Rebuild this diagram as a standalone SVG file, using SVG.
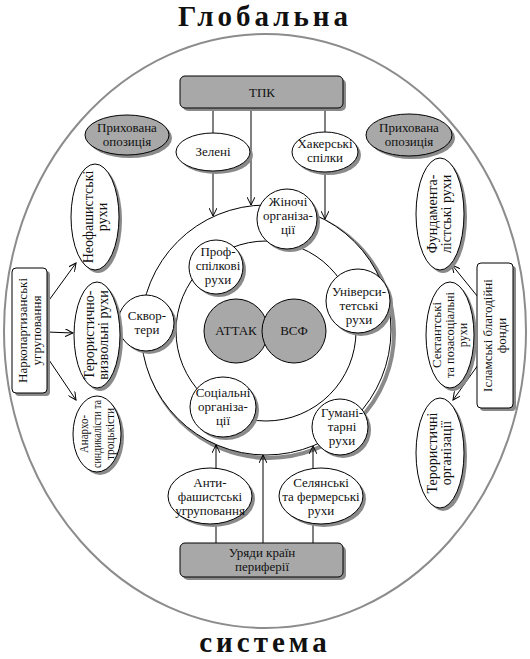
<svg xmlns="http://www.w3.org/2000/svg" width="530" height="659" viewBox="0 0 530 659">
<style>
text{font-family:"Liberation Serif","DejaVu Serif",serif;fill:#111;text-anchor:middle}
.t{font-size:13px}
.ts{font-size:12px}
.tb{font-size:14px}
.title{font-size:29px;font-weight:bold}
.w{fill:#fff;stroke:#000;stroke-width:1}
.g{fill:#a8a8a8;stroke:#000;stroke-width:1}
.sh{fill:#8a8a8a;stroke:none}
.ln{stroke:#000;stroke-width:1;fill:none}
</style>
<defs>
<marker id="ar" markerWidth="9" markerHeight="8" refX="8" refY="4" orient="auto" markerUnits="userSpaceOnUse">
<path d="M0,0 L8,4 L0,8" fill="none" stroke="#000" stroke-width="1"/>
</marker>
</defs>
<rect width="530" height="659" fill="#fff"/>
<text class="title" x="265" y="26" letter-spacing="4">Глобальна</text>
<text class="title" x="265" y="652" letter-spacing="4">система</text>
<g id="frame">
<ellipse cx="265" cy="331" rx="261" ry="297" fill="none" stroke="#8c8c8c" stroke-width="2"/>
</g>
<g id="ring-outer">
<circle cx="269" cy="333" r="125" fill="none" stroke="#8a8a8a" stroke-width="4"/>
<circle cx="266" cy="330" r="125" class="w"/>
</g>
<g id="ring-inner">
<circle cx="266" cy="331" r="90" class="w"/>
</g>
<g id="connectors" class="ln">
<line x1="213" y1="108" x2="213" y2="216" marker-end="url(#ar)"/>
<line x1="251" y1="108" x2="251" y2="205" marker-end="url(#ar)"/>
<line x1="325" y1="108" x2="325" y2="219" marker-end="url(#ar)"/>
<line x1="216" y1="543" x2="216" y2="445" marker-end="url(#ar)"/>
<line x1="263" y1="543" x2="263" y2="455" marker-end="url(#ar)"/>
<line x1="313" y1="543" x2="313" y2="446" marker-end="url(#ar)"/>
<line x1="47" y1="303" x2="76" y2="263" marker-end="url(#ar)"/>
<line x1="47" y1="332" x2="73" y2="333" marker-end="url(#ar)"/>
<line x1="47" y1="357" x2="76" y2="400" marker-end="url(#ar)"/>
<line x1="478" y1="297" x2="452" y2="265" marker-end="url(#ar)"/>
<line x1="478" y1="365" x2="453" y2="400" marker-end="url(#ar)"/>
</g>
<g id="attak">
<circle cx="236" cy="331" r="32" class="g"/>
<text class="t" x="236" y="335">АТТАК</text>
</g>
<g id="vsf">
<circle cx="294" cy="331" r="32" class="g"/>
<text class="t" x="294" y="335">ВСФ</text>
</g>
<g id="tpk">
<rect x="183" y="79" width="163" height="32" rx="5" class="sh"/>
<rect x="180" y="76" width="163" height="32" rx="5" class="g"/>
<text class="t" x="262" y="97">ТПК</text>
</g>
<g id="uriady">
<rect x="183" y="546" width="163" height="34" rx="5" class="sh"/>
<rect x="180" y="543" width="163" height="34" rx="5" class="g"/>
<text class="t" x="262" y="557">Уряди країн</text>
<text class="t" x="262" y="571">периферії</text>
</g>
<g id="opoz-left">
<ellipse cx="130" cy="138" rx="42" ry="20" class="sh"/>
<ellipse cx="127" cy="135" rx="42" ry="20" class="g"/>
<text class="t" x="127" y="132">Прихована</text>
<text class="t" x="127" y="146">опозиція</text>
</g>
<g id="opoz-right">
<ellipse cx="412" cy="138" rx="43" ry="21" class="sh"/>
<ellipse cx="409" cy="135" rx="43" ry="21" class="g"/>
<text class="t" x="409" y="132">Прихована</text>
<text class="t" x="409" y="146">опозиція</text>
</g>
<g id="zeleni">
<ellipse cx="216" cy="155" rx="37" ry="19" class="sh"/>
<ellipse cx="213" cy="152" rx="37" ry="19" class="w"/>
<text class="t" x="213" y="156">Зелені</text>
</g>
<g id="hakery">
<ellipse cx="328" cy="155" rx="33" ry="20" class="sh"/>
<ellipse cx="325" cy="152" rx="33" ry="20" class="w"/>
<text class="t" x="325" y="148">Хакерські</text>
<text class="t" x="325" y="162">спілки</text>
</g>
<g id="zhinochi">
<circle cx="290" cy="222" r="30" class="sh"/>
<circle cx="287" cy="219" r="30" class="w"/>
<text class="t" x="288" y="206">Жіночі</text>
<text class="t" x="288" y="220">організа-</text>
<text class="t" x="288" y="234">ції</text>
</g>
<g id="prof">
<circle cx="219" cy="270" r="27" class="sh"/>
<circle cx="216" cy="267" r="27" class="w"/>
<text class="t" x="218" y="256">Проф-</text>
<text class="t" x="218" y="270">спілкові</text>
<text class="t" x="218" y="284">рухи</text>
</g>
<g id="univer">
<circle cx="361" cy="304" r="32" class="sh"/>
<circle cx="358" cy="301" r="32" class="w"/>
<text class="t" x="359" y="296">Універси-</text>
<text class="t" x="359" y="310">тетські</text>
<text class="t" x="359" y="324">рухи</text>
</g>
<g id="skvoter">
<circle cx="149" cy="326" r="28" class="sh"/>
<circle cx="146" cy="323" r="28" class="w"/>
<text class="t" x="147" y="320">Сквор-</text>
<text class="t" x="147" y="334">тери</text>
</g>
<g id="social">
<ellipse cx="226" cy="410" rx="33" ry="30" class="sh"/>
<ellipse cx="223" cy="407" rx="33" ry="30" class="w"/>
<text class="t" x="223" y="397">Соціальні</text>
<text class="t" x="223" y="411">організа-</text>
<text class="t" x="223" y="425">ції</text>
</g>
<g id="humanit">
<circle cx="343" cy="430" r="28" class="sh"/>
<circle cx="340" cy="427" r="28" class="w"/>
<text class="t" x="342" y="417">Гумані-</text>
<text class="t" x="342" y="431">тарні</text>
<text class="t" x="342" y="445">рухи</text>
</g>
<g id="antifa">
<ellipse cx="213" cy="499" rx="42" ry="28" class="sh"/>
<ellipse cx="210" cy="496" rx="42" ry="28" class="w"/>
<text class="t" x="210" y="487">Анти-</text>
<text class="t" x="210" y="501">фашистські</text>
<text class="t" x="210" y="515">угруповання</text>
</g>
<g id="selianski">
<ellipse cx="324" cy="499" rx="42" ry="28" class="sh"/>
<ellipse cx="321" cy="496" rx="42" ry="28" class="w"/>
<text class="t" x="321" y="487">Селянські</text>
<text class="t" x="321" y="501">та фермерські</text>
<text class="t" x="321" y="515">рухи</text>
</g>
<g id="narko">
<rect x="15" y="271" width="35" height="125" rx="4" class="sh"/>
<rect x="12" y="268" width="35" height="125" rx="4" class="w"/>
<g transform="translate(29.5,330.5) rotate(-90)">
<text class="t" x="0" y="-3">Наркопартизанські</text>
<text class="t" x="0" y="11">угруповання</text>
</g>
</g>
<g id="neofash">
<ellipse cx="98" cy="220" rx="24" ry="53" class="sh"/>
<ellipse cx="95" cy="217" rx="24" ry="53" class="w"/>
<g transform="translate(95,217) rotate(-90)">
<text class="tb" x="0" y="-2">Неофашистські</text>
<text class="tb" x="0" y="12">рухи</text>
</g>
</g>
<g id="teror-vyzv">
<ellipse cx="100" cy="338" rx="23" ry="53" class="sh"/>
<ellipse cx="97" cy="335" rx="23" ry="53" class="w"/>
<g transform="translate(97,335) rotate(-90)">
<text class="tb" x="0" y="-3">Терористично-</text>
<text class="tb" x="0" y="11">визвольні рухи</text>
</g>
</g>
<g id="anarcho">
<ellipse cx="100" cy="437" rx="24" ry="38" class="sh"/>
<ellipse cx="97" cy="434" rx="24" ry="38" class="w"/>
<g transform="translate(97,434) rotate(-90)">
<text class="ts" x="0" y="-9" textLength="38" lengthAdjust="spacingAndGlyphs">Анархо-</text>
<text class="ts" x="0" y="4" textLength="68" lengthAdjust="spacingAndGlyphs">синдикалісти та</text>
<text class="ts" x="0" y="17" textLength="52" lengthAdjust="spacingAndGlyphs">троцькісти</text>
</g>
</g>
<g id="islam">
<rect x="480" y="266" width="36" height="145" rx="4" class="sh"/>
<rect x="477" y="263" width="36" height="145" rx="4" class="w"/>
<g transform="translate(495,335.5) rotate(-90)">
<text class="t" x="0" y="-3">Ісламські благодійні</text>
<text class="t" x="0" y="11">фонди</text>
</g>
</g>
<g id="fundament">
<ellipse cx="443" cy="217" rx="24" ry="56" class="sh"/>
<ellipse cx="440" cy="214" rx="24" ry="56" class="w"/>
<g transform="translate(440,214) rotate(-90)">
<text class="tb" x="0" y="-3">Фундамента-</text>
<text class="tb" x="0" y="11">лістські рухи</text>
</g>
</g>
<g id="sektant">
<ellipse cx="453" cy="338" rx="24" ry="53" class="sh"/>
<ellipse cx="450" cy="335" rx="24" ry="53" class="w"/>
<g transform="translate(450,335) rotate(-90)">
<text class="ts" x="0" y="-9" textLength="66" lengthAdjust="spacingAndGlyphs">Сектантські</text>
<text class="ts" x="0" y="4" textLength="86" lengthAdjust="spacingAndGlyphs">та позасоціальні</text>
<text class="ts" x="0" y="17">рухи</text>
</g>
</g>
<g id="teror-org">
<ellipse cx="443" cy="456" rx="24" ry="55" class="sh"/>
<ellipse cx="440" cy="453" rx="24" ry="55" class="w"/>
<g transform="translate(440,453) rotate(-90)">
<text class="tb" x="0" y="-3">Терористичні</text>
<text class="tb" x="0" y="11">організації</text>
</g>
</g>
</svg>
